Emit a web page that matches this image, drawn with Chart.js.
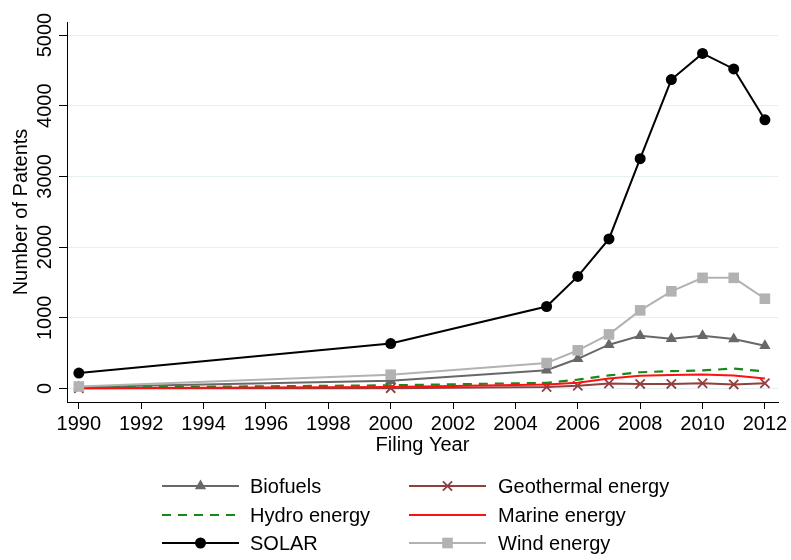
<!DOCTYPE html>
<html>
<head>
<meta charset="utf-8">
<script src="https://cdn.jsdelivr.net/npm/chart.js@4/dist/chart.umd.min.js"></script>
<style>
  body { margin: 0; background: #fff; }
  canvas { display: block; }
</style>
</head>
<body>
<canvas id="patentsChart" width="791" height="560"></canvas>
<script>
// data
const years = [1990, 2000, 2005, 2006, 2007, 2008, 2009, 2010, 2011, 2012];
const biofuels   = [20, 108, 258, 420, 620, 745, 705, 745, 700, 605];
const geothermal = [5, 5, 20, 40, 70, 65, 65, 75, 58, 75];
const hydro      = [10, 45, 80, 125, 185, 230, 245, 255, 282, 240];
const marine     = [5, 20, 55, 80, 140, 180, 192, 198, 185, 140];
const solar      = [218, 636, 1160, 1585, 2115, 3250, 4370, 4740, 4520, 3800];
const wind       = [28, 195, 360, 540, 765, 1105, 1375, 1565, 1565, 1270];

const seriesNames = ['Biofuels', 'Geothermal energy', 'Hydro energy', 'Marine energy', 'SOLAR', 'Wind energy'];
const seriesValues = [biofuels, geothermal, hydro, marine, solar, wind];
const xTicks = [1990, 1992, 1994, 1996, 1998, 2000, 2002, 2004, 2006, 2008, 2010, 2012];
const yTicks = [0, 1000, 2000, 3000, 4000, 5000];

// styles per series (same order as seriesNames)
const styles = [
    { color: '#686868', point: 'triangle', radius: 6.5, width: 2, dash: [] },
    { color: '#923f3f', point: 'crossRot', radius: 6.5, width: 2, dash: [] },
    { color: '#17891a', point: false, radius: 0, width: 2.2, dash: [9, 7] },
    { color: '#ff1010', point: false, radius: 0, width: 2, dash: [] },
    { color: '#000000', point: 'circle', radius: 5.5, width: 2, dash: [] },
    { color: '#b2b2b2', point: 'rect', radius: 7.5, width: 2, dash: [] }
];

const FONT = '"Liberation Sans", Arial, Helvetica, sans-serif';

const datasets = seriesNames.map((name, i) => {
    const s = styles[i];
    return {
        label: name,
        data: years.map((yr, j) => ({ x: yr, y: seriesValues[i][j] })),
        borderColor: s.color,
        backgroundColor: s.color,
        borderWidth: s.width,
        borderDash: s.dash,
        pointStyle: s.point,
        pointRadius: s.radius,
        pointBorderWidth: s.point === 'crossRot' ? 1.8 : 0,
        pointBackgroundColor: s.color,
        pointBorderColor: s.color,
        tension: 0,
        order: seriesNames.length - i // later series on top, like the original
    };
});

// legend in two columns under the plot
const legendPlugin = {
    id: 'twoColLegend',
    afterDraw(chart) {
        const ctx = chart.ctx;
        const rowY = [486, 515, 543];
        const cols = [{ x0: 162, x1: 239, tx: 250 }, { x0: 409, x1: 486, tx: 498 }];
        ctx.save();
        ctx.font = '20px ' + FONT;
        ctx.textBaseline = 'middle';
        ctx.textAlign = 'left';
        seriesNames.forEach((name, i) => {
            const s = styles[i];
            const c = cols[i % 2];
            const y = rowY[Math.floor(i / 2)];
            ctx.strokeStyle = s.color;
            ctx.lineWidth = s.width;
            ctx.setLineDash(s.dash);
            ctx.beginPath();
            ctx.moveTo(c.x0, y);
            ctx.lineTo(c.x1, y);
            ctx.stroke();
            ctx.setLineDash([]);
            if (s.point) {
                ctx.fillStyle = s.color;
                ctx.lineWidth = s.point === 'crossRot' ? 1.8 : 0;
                Chart.helpers.drawPoint(ctx, {
                    pointStyle: s.point,
                    radius: s.radius,
                    rotation: 0,
                    borderWidth: s.point === 'crossRot' ? 1.8 : 0
                }, (c.x0 + c.x1) / 2, y);
            }
            ctx.fillStyle = '#000';
            ctx.fillText(name, c.tx, y + 1);
        });
        ctx.restore();
    }
};

const ctx = document.getElementById('patentsChart').getContext('2d');
new Chart(ctx, {
    type: 'line',
    data: { datasets: datasets },
    options: {
        responsive: false,
        animation: false,
        layout: { padding: { top: 22, right: 13, bottom: 100, left: 0 } },
        plugins: {
            legend: { display: false },
            tooltip: { enabled: false }
        },
        scales: {
            x: {
                type: 'linear',
                min: 1989.62,
                max: 2012.42,
                afterBuildTicks: s => { s.ticks = xTicks.map(v => ({ value: v })); },
                afterFit: s => { s.height = 58; },
                grid: { drawOnChartArea: false, drawTicks: true, tickLength: 7, tickColor: '#000', tickWidth: 1 },
                border: { display: true, color: '#000', width: 1 },
                ticks: {
                    autoSkip: false,
                    maxRotation: 0,
                    padding: 3,
                    color: '#000',
                    font: { family: FONT, size: 20 },
                    callback: v => String(v)
                },
                title: {
                    display: true,
                    text: 'Filing Year',
                    color: '#000',
                    font: { family: FONT, size: 20 },
                    padding: { top: 0, bottom: 3 }
                }
            },
            y: {
                type: 'linear',
                min: -191,
                max: 5184,
                afterBuildTicks: s => { s.ticks = yTicks.map(v => ({ value: v })); },
                afterFit: s => { s.width = 67; },
                grid: { color: '#e6eff2', lineWidth: 1, drawTicks: true, tickLength: 8, tickColor: '#000', tickWidth: 1 },
                border: { display: true, color: '#000', width: 1 },
                ticks: {
                    autoSkip: false,
                    minRotation: 90,
                    maxRotation: 90,
                    crossAlign: 'center',
                    padding: -9,
                    color: '#000',
                    font: { family: FONT, size: 20 },
                    callback: v => String(v)
                },
                title: {
                    display: true,
                    text: 'Number of Patents',
                    color: '#000',
                    font: { family: FONT, size: 20 },
                    padding: { top: 9, bottom: 0 }
                }
            }
        }
    },
    plugins: [legendPlugin]
});
</script>
</body>
</html>
